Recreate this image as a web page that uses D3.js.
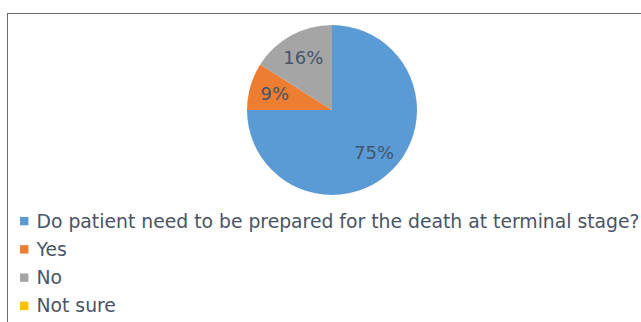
<!DOCTYPE html>
<html>
<head>
<meta charset="utf-8">
<script src="https://cdn.jsdelivr.net/npm/d3@7"></script>
<style>
  html, body { margin: 0; padding: 0; background: #fff; }
  svg { display: block; }
</style>
</head>
<body>
<svg id="chart" width="641" height="322"></svg>
<script>
// Survey responses, in legend order
const categories = [
  "Do patient need to be prepared for the death at terminal stage?",
  "Yes",
  "No",
  "Not sure"
];
const percents = [75, 9, 16, 0];
const colors = ["#5b9bd5", "#ed7d31", "#a5a5a5", "#ffc000"];

const width = 641, height = 322;
const svg = d3.select("#chart");

// Chart frame (runs past the right and bottom edges)
svg.append("rect")
  .attr("x", 7.5).attr("y", 13.5)
  .attr("width", 700).attr("height", 400)
  .attr("fill", "#fff")
  .attr("stroke", "#6b6b6b")
  .attr("stroke-width", 1);

const cx = 332, cy = 110, radius = 85;

const data = categories.map((c, i) => ({ name: c, value: percents[i], color: colors[i] }));

const pie = d3.pie().sort(null).value(d => d.value);
const arc = d3.arc().innerRadius(0).outerRadius(radius);
const labelArc = d3.arc().innerRadius(radius * 0.7).outerRadius(radius * 0.7);

const g = svg.append("g").attr("transform", `translate(${cx},${cy})`);
const arcs = pie(data);

g.selectAll("path.slice")
  .data(arcs)
  .join("path")
  .attr("class", "slice")
  .attr("d", arc)
  .attr("fill", d => d.data.color);

g.selectAll("text.pct")
  .data(arcs.filter(d => d.data.value > 0))
  .join("text")
  .attr("class", "pct")
  .attr("transform", d => `translate(${labelArc.centroid(d)})`)
  .attr("text-anchor", "middle")
  .attr("dominant-baseline", "central")
  .attr("font-family", "DejaVu Sans, sans-serif")
  .attr("font-size", 18)
  .attr("fill", "#44546a")
  .text(d => d.data.value + "%");

// Legend
const legendY = d3.scaleBand()
  .domain(categories)
  .range([207, 320])
  .paddingInner(0);

const legend = svg.append("g");
const rows = legend.selectAll("g.row")
  .data(data)
  .join("g")
  .attr("class", "row")
  .attr("transform", d => `translate(0,${legendY(d.name) + legendY.bandwidth() / 2})`);

rows.append("rect")
  .attr("x", 20).attr("y", -4.2)
  .attr("width", 8.4).attr("height", 8.4)
  .attr("fill", d => d.color);

rows.append("text")
  .attr("x", 36.5)
  .attr("dominant-baseline", "central")
  .attr("font-family", "DejaVu Sans, sans-serif")
  .attr("font-size", 18.8)
  .attr("fill", "#4a5466")
  .text(d => d.name);
</script>
</body>
</html>
